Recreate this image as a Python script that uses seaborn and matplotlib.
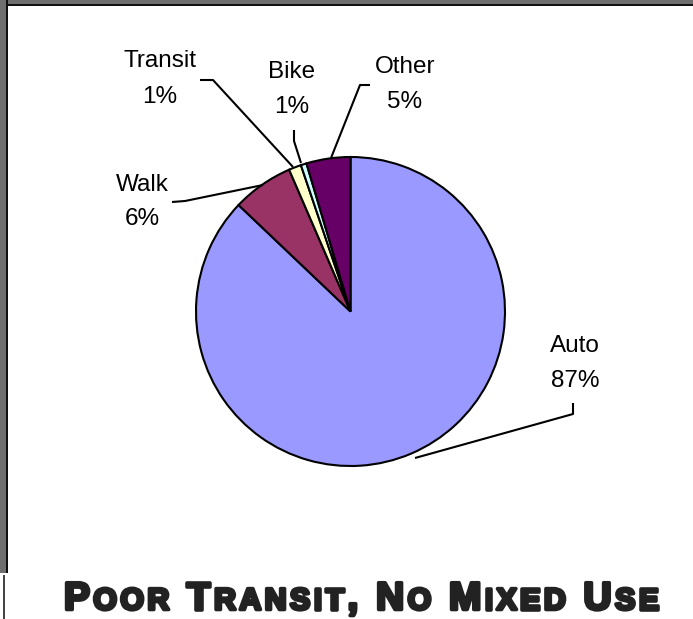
import matplotlib
matplotlib.use("Agg")
import matplotlib.pyplot as plt
import matplotlib.patheffects as pe
import seaborn as sns
from matplotlib.patches import Rectangle

categories = ["Auto", "Walk", "Transit", "Bike", "Other"]
shares = [87.1, 6.4, 1.3, 0.6, 4.6]
pct_labels = ["87%", "6%", "1%", "1%", "5%"]
colors = ["#9999ff", "#993366", "#ffffcc", "#ccffff", "#660066"]
title_text = "Poor Transit, No Mixed Use"

sns.set_theme(style="white")
plt.rcParams['font.family'] = ['Liberation Sans', 'DejaVu Sans']

W, H = 693, 619
fig = plt.figure(figsize=(W / 100, H / 100), dpi=100)
fig.patch.set_facecolor("white")
ax = fig.add_axes([0, 0, 1, 1])


def Y(y):
    return H - y


cx, cy, r = 350.5, 311.5, 154.5
ax.pie(shares, colors=colors, startangle=90, counterclock=False,
       center=(cx, Y(cy)), radius=r, frame=True,
       wedgeprops=dict(edgecolor="black", linewidth=1.5))
ax.set_xlim(0, W)
ax.set_ylim(0, H)
ax.axis("off")

# label layout: (center x, baseline of name, baseline of percent)
label_pos = {"Auto": (575, 352, 387), "Walk": (142, 191, 225),
             "Transit": (160, 67, 103), "Bike": (292, 78, 113),
             "Other": (405, 73, 108)}
leaders = {
    "Auto": [(573, 403), (573, 414), (415, 458)],
    "Walk": [(172, 202), (185, 201), (263, 185)],
    "Transit": [(200, 80), (213, 80), (293, 167)],
    "Bike": [(294, 130), (294, 141), (301, 163)],
    "Other": [(370, 85), (360, 85), (331, 158)],
}
for cat, pct in zip(categories, pct_labels):
    x, b1, b2 = label_pos[cat]
    ax.text(x, Y(b1), cat, ha="center", va="baseline", fontsize=17.5, color="black")
    ax.text(x, Y(b2), pct, ha="center", va="baseline", fontsize=17.5, color="black")
    pts = leaders[cat]
    ax.plot([p[0] for p in pts], [Y(p[1]) for p in pts], color="black",
            lw=1.5, solid_capstyle="butt")

# frame border (gray band with dark line) top and left
fig.patches.append(Rectangle((0, 1 - 4 / H), 1, 4 / H, transform=fig.transFigure,
                             facecolor="#6e6e6e", edgecolor="none", zorder=5))
fig.patches.append(Rectangle((0, 1 - 6 / H), 1, 2 / H, transform=fig.transFigure,
                             facecolor="#111111", edgecolor="none", zorder=5))
fig.patches.append(Rectangle((0, 1 - 573 / H), 6 / W, 573 / H, transform=fig.transFigure,
                             facecolor="#6e6e6e", edgecolor="none", zorder=5))
fig.patches.append(Rectangle((6 / W, 1 - 573 / H), 2 / W, 573 / H, transform=fig.transFigure,
                             facecolor="#111111", edgecolor="none", zorder=5))
fig.patches.append(Rectangle((3 / W, 0), 2 / W, 1 - 575 / H, transform=fig.transFigure,
                             facecolor="#444444", edgecolor="none", zorder=5))

# small-caps title, drawn character by character with tracking
fig.canvas.draw()
renderer = fig.canvas.get_renderer()
big, small = 28, 28 * 0.78
stroke = [pe.withStroke(linewidth=2.6, foreground="#222222")]
chars = []
for ch in title_text:
    if ch == " ":
        size = small
        s = " "
    elif ch.isupper() or not ch.isalpha():
        size = big
        s = ch
    else:
        size = small
        s = ch.upper()
    t = fig.text(0, 0, s, fontsize=size, fontweight="bold", color="#222222",
                 ha="left", va="baseline", path_effects=stroke)
    chars.append(t)
widths = []
for t in chars:
    if t.get_text() == " ":
        widths.append(None)
    else:
        widths.append(t.get_window_extent(renderer).width)
space_w = big * 100 / 72 * 0.28
widths = [space_w if w is None else w for w in widths]
target_left, target_right = 64, 659
n_gaps = len(chars) - 1
track = (target_right - target_left - sum(widths)) / n_gaps
x0 = target_left
baseline = Y(609.5)
for t, w in zip(chars, widths):
    t.set_position((x0 / W, baseline / H))
    x0 += w + track

fig.savefig("out.png", dpi=100, facecolor="white")
